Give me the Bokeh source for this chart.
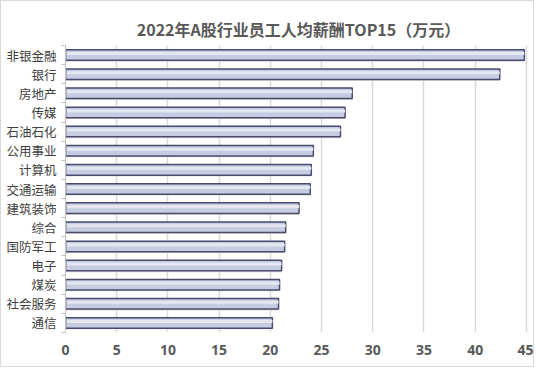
from bokeh.plotting import figure
from bokeh.models import Range1d, FixedTicker, ColumnDataSource
from bokeh.transform import dodge
from bokeh.embed import file_html
from bokeh.resources import INLINE

categories = ["非银金融", "银行", "房地产", "传媒", "石油石化", "公用事业", "计算机", "交通运输",
              "建筑装饰", "综合", "国防军工", "电子", "煤炭", "社会服务", "通信"]
salary = [44.8, 42.4, 28.0, 27.3, 26.85, 24.2, 24.0, 23.9, 22.8, 21.5, 21.4, 21.1, 20.9, 20.8, 20.2]
x_ticks = [0, 5, 10, 15, 20, 25, 30, 35, 40, 45]
title = "2022年A股行业员工人均薪酬TOP15（万元）"

pos = list(range(len(categories)))
src = ColumnDataSource(dict(y=pos, v=salary, name=categories))

p = figure(width=534, height=367, output_backend="svg", toolbar_location=None,
           x_range=Range1d(0, 45.5), y_range=Range1d(len(categories) - 0.5, -0.5),
           min_border_left=64, min_border_right=4, min_border_top=44, min_border_bottom=36)
p.title.text = title
p.title.align = "center"
p.title.text_font = "Noto Sans CJK SC"
p.title.text_font_size = "16px"
p.title.text_font_style = "bold"
p.title.text_color = "#595959"
p.title.offset = 0

p.outline_line_color = None
p.background_fill_color = "white"
p.border_fill_color = "white"
p.styles = {"border": "1px solid #d9d9d9", "box-sizing": "border-box"}

# shadow
p.hbar(y=dodge("y", 0.07, range=p.y_range), right="v", left=0, height=0.55, source=src,
       fill_color="#dcdcdc", line_color=None)
p.hbar(y="y", right="v", left=0, height=0.55, source=src,
       fill_color="#c6cce2", line_color="#4a4a6e", line_width=1.5)
p.hbar(y=dodge("y", -0.08, range=p.y_range), right="v", left=0.15, height=0.16, source=src,
       fill_color="#e4e7f2", line_color=None)

p.xaxis.ticker = FixedTicker(ticks=x_ticks)
p.xaxis.axis_line_color = None
p.xaxis.major_tick_line_color = None
p.xaxis.minor_tick_line_color = None
p.xaxis.major_label_text_font = "Noto Sans"
p.xaxis.major_label_text_font_style = "bold"
p.xaxis.major_label_text_font_size = "14px"
p.xaxis.major_label_text_color = "#595959"
p.xaxis.major_label_standoff = 6

p.yaxis.ticker = FixedTicker(ticks=pos, minor_ticks=[i - 0.5 for i in range(len(categories) + 1)])
p.yaxis.major_label_overrides = {i: c for i, c in zip(pos, categories)}
p.yaxis.axis_line_color = "#bfbfbf"
p.yaxis.major_tick_line_color = None
p.yaxis.major_tick_out = 0
p.yaxis.major_tick_in = 0
p.yaxis.minor_tick_line_color = "#bfbfbf"
p.yaxis.minor_tick_out = 4
p.yaxis.minor_tick_in = 0
p.yaxis.major_label_text_font = "Noto Sans CJK SC"
p.yaxis.major_label_text_font_size = "12.5px"
p.yaxis.major_label_text_color = "#404040"
p.yaxis.major_label_standoff = 5

p.xgrid.ticker = FixedTicker(ticks=x_ticks[1:])
p.xgrid.grid_line_color = "#d9d9d9"
p.xgrid.grid_line_width = 1.5
p.ygrid.grid_line_color = None

open("out.html", "w").write(file_html(p, INLINE))
